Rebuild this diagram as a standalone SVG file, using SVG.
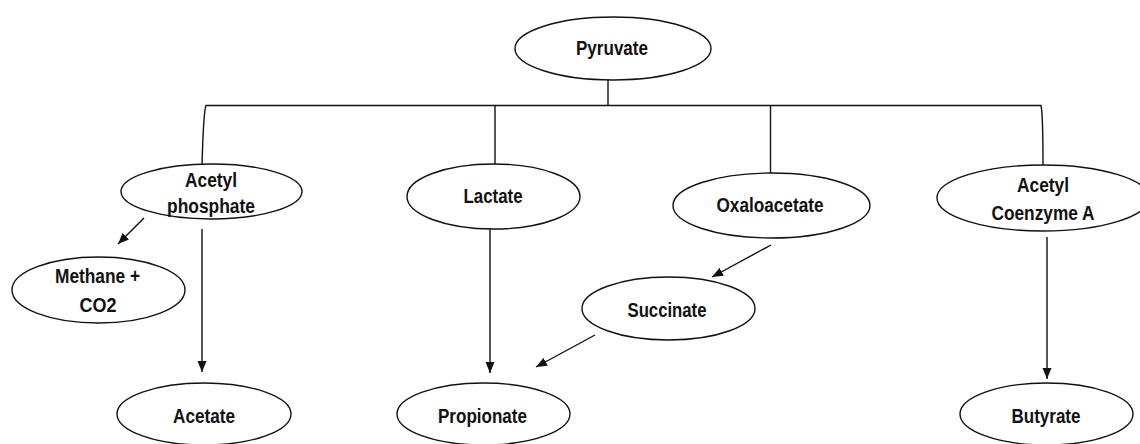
<svg xmlns="http://www.w3.org/2000/svg" width="1140" height="444" viewBox="0 0 1140 444">
<style>
.n ellipse{fill:#fff;stroke:#111;stroke-width:1.4}
.n text{font-family:"Liberation Sans",Arial,sans-serif;font-weight:bold;font-size:21px;fill:#111;text-anchor:middle}
.c path,.c line{fill:none;stroke:#111;stroke-width:1.4}
</style>
<defs>
<marker id="ah" viewBox="0 0 11 10" refX="11" refY="5" markerWidth="11" markerHeight="10" markerUnits="userSpaceOnUse" orient="auto">
<path d="M0,0.5 L11,5 L0,9.5 Z" fill="#111"/>
</marker>
</defs>
<rect width="1140" height="444" fill="#fff"/>
<g class="c" id="connectors">
<path d="M608,80 L608,105.5"/>
<path d="M202,165 C203,130 204,110 206,105.5 L1041,105.5 C1042,110 1043,140 1043,165"/>
<line x1="495" y1="105.5" x2="495" y2="164"/>
<line x1="770.5" y1="105.5" x2="770.5" y2="173"/>
<line x1="144" y1="218" x2="118" y2="244" marker-end="url(#ah)"/>
<line x1="202" y1="229" x2="202" y2="372" marker-end="url(#ah)"/>
<line x1="490" y1="229" x2="490" y2="373" marker-end="url(#ah)"/>
<line x1="771" y1="245" x2="712" y2="277" marker-end="url(#ah)"/>
<line x1="595" y1="335" x2="536" y2="367" marker-end="url(#ah)"/>
<line x1="1047" y1="237" x2="1047" y2="379" marker-end="url(#ah)"/>
</g>
<g class="n" id="pyruvate"><ellipse cx="613" cy="48.5" rx="98" ry="31.5"/><text x="612" y="55" textLength="72" lengthAdjust="spacingAndGlyphs">Pyruvate</text></g>
<g class="n" id="acetyl-phosphate"><ellipse cx="211.5" cy="191.5" rx="90.5" ry="27.5"/><text x="211" y="187" textLength="52" lengthAdjust="spacingAndGlyphs">Acetyl</text><text x="211" y="213" textLength="88" lengthAdjust="spacingAndGlyphs">phosphate</text></g>
<g class="n" id="lactate"><ellipse cx="493.5" cy="196.5" rx="86.5" ry="32.5"/><text x="493" y="203" textLength="59" lengthAdjust="spacingAndGlyphs">Lactate</text></g>
<g class="n" id="oxaloacetate"><ellipse cx="771.5" cy="205.5" rx="98.5" ry="32.5"/><text x="770" y="212" textLength="107" lengthAdjust="spacingAndGlyphs">Oxaloacetate</text></g>
<g class="n" id="acetyl-coa"><ellipse cx="1043" cy="198" rx="106" ry="33"/><text x="1043" y="192" textLength="52" lengthAdjust="spacingAndGlyphs">Acetyl</text><text x="1043" y="220" textLength="103" lengthAdjust="spacingAndGlyphs">Coenzyme A</text></g>
<g class="n" id="methane"><ellipse cx="98.5" cy="290" rx="86.5" ry="33"/><text x="97.5" y="283" textLength="85" lengthAdjust="spacingAndGlyphs">Methane +</text><text x="98" y="312" textLength="37" lengthAdjust="spacingAndGlyphs">CO2</text></g>
<g class="n" id="succinate"><ellipse cx="668.5" cy="308.5" rx="86.5" ry="31.5"/><text x="667" y="317" textLength="79" lengthAdjust="spacingAndGlyphs">Succinate</text></g>
<g class="n" id="acetate"><ellipse cx="204" cy="414" rx="87" ry="31"/><text x="204" y="423" textLength="62" lengthAdjust="spacingAndGlyphs">Acetate</text></g>
<g class="n" id="propionate"><ellipse cx="483.5" cy="414" rx="86.5" ry="31"/><text x="482.5" y="423" textLength="89" lengthAdjust="spacingAndGlyphs">Propionate</text></g>
<g class="n" id="butyrate"><ellipse cx="1046.5" cy="414" rx="86.5" ry="31"/><text x="1046" y="423" textLength="69" lengthAdjust="spacingAndGlyphs">Butyrate</text></g>
</svg>
